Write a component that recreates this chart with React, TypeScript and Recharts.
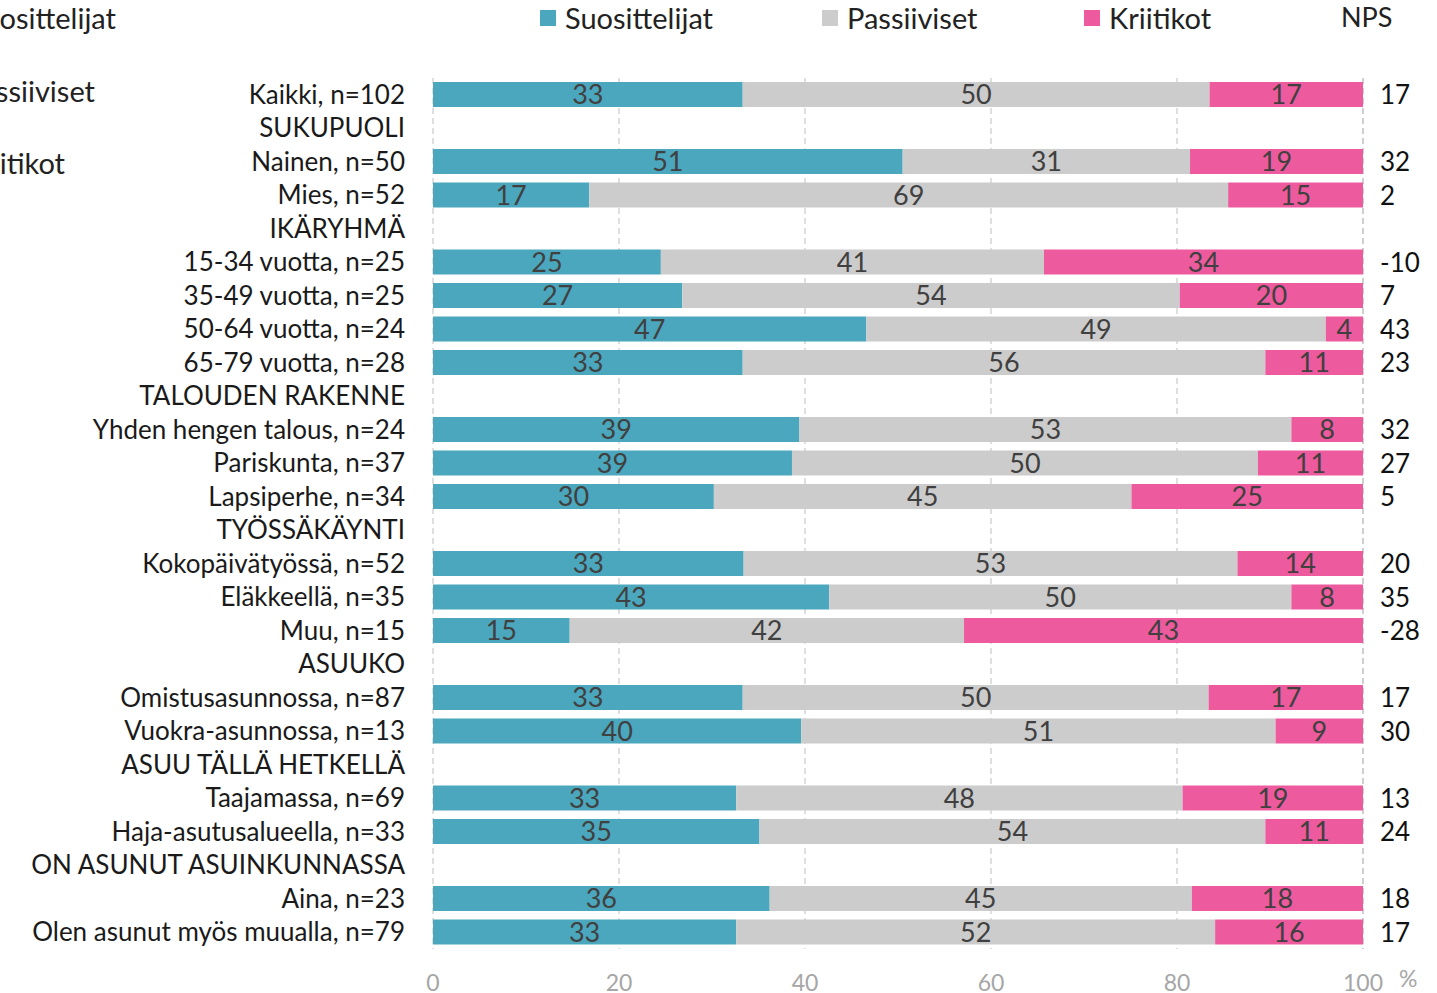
import { BarChart, Bar, XAxis, YAxis, CartesianGrid, LabelList, Legend } from "recharts";

const categories = [
  "Kaikki, n=102",
  "SUKUPUOLI",
  "Nainen, n=50",
  "Mies, n=52",
  "IKÄRYHMÄ",
  "15-34 vuotta, n=25",
  "35-49 vuotta, n=25",
  "50-64 vuotta, n=24",
  "65-79 vuotta, n=28",
  "TALOUDEN RAKENNE",
  "Yhden hengen talous, n=24",
  "Pariskunta, n=37",
  "Lapsiperhe, n=34",
  "TYÖSSÄKÄYNTI",
  "Kokopäivätyössä, n=52",
  "Eläkkeellä, n=35",
  "Muu, n=15",
  "ASUUKO",
  "Omistusasunnossa, n=87",
  "Vuokra-asunnossa, n=13",
  "ASUU TÄLLÄ HETKELLÄ",
  "Taajamassa, n=69",
  "Haja-asutusalueella, n=33",
  "ON ASUNUT ASUINKUNNASSA",
  "Aina, n=23",
  "Olen asunut myös muualla, n=79",
];

const promoters = [33.3, null, 50.5, 16.8, null, 24.5, 26.8, 46.6, 33.3, null, 39.4, 38.6, 30.2, null, 33.4, 42.6, 14.7, null, 33.3, 39.6, null, 32.6, 35.1, null, 36.2, 32.6];
const passives = [50.2, null, 30.9, 68.7, null, 41.2, 53.5, 49.4, 56.2, null, 52.9, 50.1, 44.9, null, 53.1, 49.7, 42.4, null, 50.1, 51.0, null, 48.0, 54.4, null, 45.4, 51.5];
const critics = [16.5, null, 18.6, 14.5, null, 34.3, 19.7, 4.0, 10.5, null, 7.7, 11.3, 24.9, null, 13.5, 7.7, 42.9, null, 16.6, 9.4, null, 19.4, 10.5, null, 18.4, 15.9];
const npsValues = [17, null, 32, 2, null, -10, 7, 43, 23, null, 32, 27, 5, null, 20, 35, -28, null, 17, 30, null, 13, 24, null, 18, 17];

const xTicks = [0, 20, 40, 60, 80, 100];

const data = categories.map((name, i) => ({
  name,
  prom: promoters[i],
  pass: passives[i],
  crit: critics[i],
  nps: npsValues[i],
}));

const FONT = "Lato, 'Noto Sans', sans-serif";
const TEAL = "#4BA7BD";
const GREY = "#CCCCCC";
const PINK = "#EE5A9E";

const fmt = (v: any) => (v == null ? "" : String(Math.round(Number(v))));

function NpsLabel(props: any) {
  const { x, y, width, height, value } = props;
  if (value == null) return null;
  return (
    <text x={x + width + 17} y={y + height / 2} dy="0.38em" fontSize={26} fill="#111" fontFamily={FONT}>
      {value}
    </text>
  );
}

function LegendBox() {
  const item = (left: number, color: string, text: string, size = 29) => (
    <div style={{ position: "absolute", left, top: 0, display: "flex", alignItems: "center", fontSize: size, color: "#222", whiteSpace: "nowrap" }}>
      {color && <span style={{ width: 16, height: 16, background: color, display: "inline-block", marginRight: 9 }} />}
      {text}
    </div>
  );
  const cut = (right: number, top: number, text: string) => (
    <div style={{ position: "absolute", right: 1437 - right, top, fontSize: 29, color: "#222", whiteSpace: "nowrap" }}>
      {text}
    </div>
  );
  return (
    <div style={{ position: "relative", width: 1437, height: 0, fontFamily: FONT }}>
      {item(540, TEAL, "Suosittelijat")}
      {item(822, GREY, "Passiiviset")}
      {item(1084, PINK, "Kriitikot")}
      {item(1341, "", "NPS", 27)}
      {cut(116, 0, "Suosittelijat")}
      {cut(95, 73, "Passiiviset")}
      {cut(65, 145, "Kriitikot")}
      <div style={{ position: "absolute", left: 1399, top: 964, fontSize: 23, color: "#A6A6A6" }}>%</div>
    </div>
  );
}

export default function App() {
  return (
    <div style={{ position: "absolute", left: 0, top: 0, width: 1437, height: 993, overflow: "hidden", background: "#fff" }}>
      <BarChart
        width={1437}
        height={993}
        data={data}
        layout="vertical"
        margin={{ top: 78, right: 74, bottom: 14, left: 0 }}
        barSize={25}
      >
        <CartesianGrid horizontal={false} stroke="#BFBFBF" strokeDasharray="6 4" />
        <XAxis
          type="number"
          domain={[0, 100]}
          ticks={xTicks}
          axisLine={false}
          tickLine={false}
          tickMargin={20}
          tick={{ fill: "#A6A6A6", fontSize: 23, fontFamily: FONT }}
        />
        <YAxis
          type="category"
          dataKey="name"
          width={433}
          axisLine={false}
          tickLine={false}
          tickMargin={22}
          interval={0}
          tick={{ fill: "#1A1A1A", fontSize: 26, fontFamily: FONT }}
        />
        <Legend verticalAlign="top" wrapperStyle={{ top: 0, left: 0 }} content={() => <LegendBox />} />
        <Bar dataKey="prom" stackId="a" fill={TEAL} isAnimationActive={false}>
          <LabelList dataKey="prom" position="center" formatter={fmt} fill="#404040" fontSize={27} fontFamily={FONT} />
        </Bar>
        <Bar dataKey="pass" stackId="a" fill={GREY} isAnimationActive={false}>
          <LabelList dataKey="pass" position="center" formatter={fmt} fill="#404040" fontSize={27} fontFamily={FONT} />
        </Bar>
        <Bar dataKey="crit" stackId="a" fill={PINK} isAnimationActive={false}>
          <LabelList dataKey="crit" position="center" formatter={fmt} fill="#404040" fontSize={27} fontFamily={FONT} />
          <LabelList dataKey="nps" content={<NpsLabel />} />
        </Bar>
      </BarChart>
    </div>
  );
}
